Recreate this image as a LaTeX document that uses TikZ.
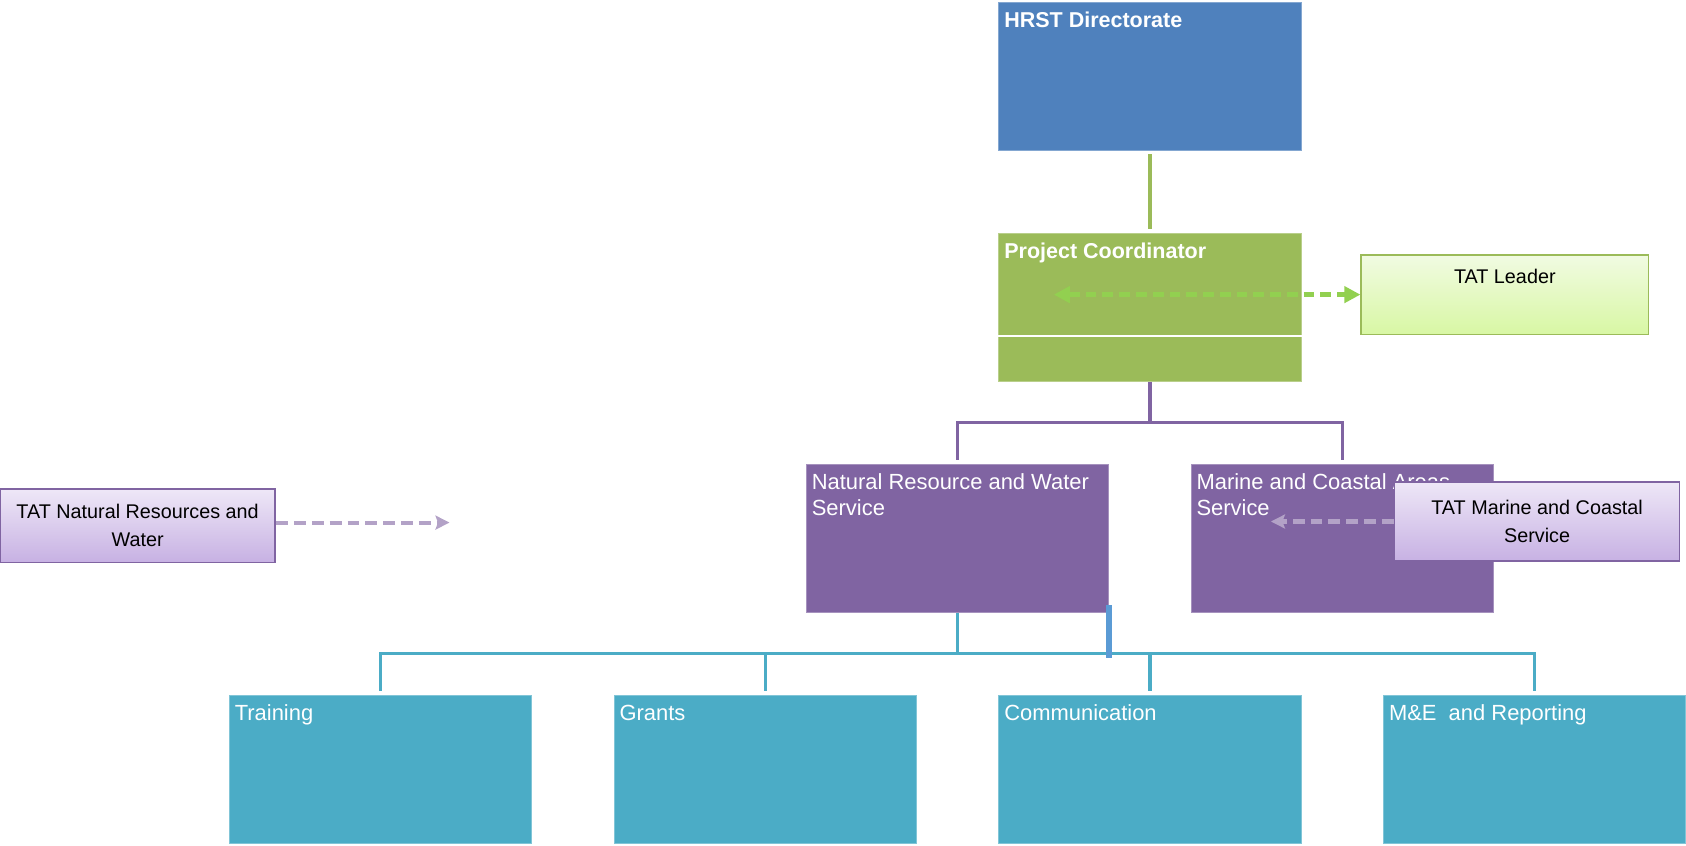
\documentclass[tikz,border=0pt]{standalone}
\usepackage{fontspec}
\setmainfont{Liberation Sans}
\usepackage{tikz}
\usetikzlibrary{arrows.meta,positioning}
\definecolor{hrstblue}{HTML}{4F81BD}
\definecolor{coordgreen}{HTML}{9BBB59}
\definecolor{servicepurple}{HTML}{8064A2}
\definecolor{unitteal}{HTML}{4BACC6}
\definecolor{leadgreen}{HTML}{92D050}
\definecolor{tatpurple}{HTML}{B3A2C7}
\definecolor{barblue}{HTML}{5B9BD5}
\definecolor{leadtop}{HTML}{F1FBE2}
\definecolor{leadbottom}{HTML}{D8F7A4}
\definecolor{tattop}{HTML}{EEE7F7}
\definecolor{tatbottom}{HTML}{C7B1E3}

\begin{document}
\begin{tikzpicture}[x=0.5pt, y=-0.5pt, node distance=38pt and 38pt, >={Triangle[length=7.5pt, width=7.5pt]}] % Raster: 76px Abstand, Boxen 281x138px

		\tikzstyle{all} = [rectangle, draw, line width=0.4pt, minimum width=140.5pt, minimum height=69pt, inner sep=0pt]
		\tikzstyle{directorate} = [all, fill=hrstblue, draw=hrstblue!70!white]
		\tikzstyle{coordinator} = [all, fill=coordgreen, draw=coordgreen!70!white]
		\tikzstyle{service} = [all, fill=servicepurple, draw=servicepurple!70!white]
		\tikzstyle{unit} = [all, fill=unitteal, draw=unitteal!70!white]
		\tikzstyle{caption} = [anchor=north west, inner sep=0pt, xshift=2.5pt, yshift=-4.6pt, text=white, align=left, font=\fontsize{10.2}{12}\selectfont]
		\tikzstyle{tat} = [rectangle, draw, line width=0.8pt, align=center, inner sep=0pt, font=\fontsize{9.2}{13}\selectfont]
		\tikzstyle{tatlead} = [tat, draw=coordgreen, top color=leadtop, bottom color=leadbottom, minimum width=133.5pt, minimum height=37pt]
		\tikzstyle{tatservice} = [tat, draw=servicepurple, top color=tattop, bottom color=tatbottom, minimum height=37pt]
		\tikzstyle{coordline} = [coordgreen, line width=1.7pt, shorten <=1.5pt, shorten >=1.5pt]
		\tikzstyle{serviceline} = [servicepurple, line width=1.5pt, shorten >=1.5pt]
		\tikzstyle{unitline} = [unitteal, line width=1.5pt, shorten >=1.5pt]
		\tikzstyle{leadarrow} = [leadgreen, line width=2.2pt, dash pattern=on 5pt off 2.8pt]
		\tikzstyle{tatarrow} = [tatpurple, line width=1.9pt, dash pattern=on 5.5pt off 2.8pt, -{Stealth[length=6.5pt, width=6.5pt, inset=1.2pt]}]

		\useasboundingbox (0,0) rectangle (1568,786);

		\node [directorate, label={[caption, font=\bfseries]north west:HRST Directorate}] (hrst) at (1069.5,71) {};
		\node [coordinator, below = of hrst, label={[caption, font=\bfseries]north west:Project Coordinator}] (coord) {};

		\node [service, below = of coord, xshift=-89.5pt, label={[caption]north west:Natural Resource and Water\\Service}] (nrw) {};
		\node [service, right = of nrw, label={[caption]north west:Marine and Coastal Areas\\Service}] (marine) {};

		\node [unit, below = of nrw, xshift=89.5pt, label={[caption]north west:Communication}] (comm) {};
		\node [unit, left = of comm, label={[caption, yshift=-0.2pt]north west:Grants}] (grants) {};
		\node [unit, left = of grants, label={[caption]north west:Training}] (training) {};
		\node [unit, right = of comm, label={[caption]north west:M\&E\ \ and Reporting}] (me) {};

		% TAT Boxen
		\node [tatlead, label={[font=\fontsize{9.2}{13}\selectfont, anchor=north, inner sep=0pt, yshift=-7pt]north:TAT Leader}] (leader) at (1399.5,274) {};
		\node [tatservice, minimum width=132.5pt] (tatmarine) at (1429.5,485) {TAT Marine and Coastal\\Service};
		\node [tatservice, minimum width=128pt, minimum height=34pt] (tatnrw) at (128,489) {TAT Natural Resources and\\Water};

		\coordinate (leadtip) at (980,274);
		\coordinate (marinetip) at (1182,485);
		\coordinate (nrwtip) at (418,486);

		\draw [white, line width=0.8pt] ([yshift=-48pt]coord.north west) -- ([yshift=-48pt]coord.north east);

		\draw [coordline] (hrst) -- (coord);
		\draw [serviceline] (coord.south) -- ++(0,-19pt) -| (nrw.north);
		\draw [serviceline] (coord.south) -- ++(0,-19pt) -| (marine.north);
		\foreach \u in {training, grants, comm, me}
			\draw [unitline] (nrw.south) -- ++(0,-19pt) -| (\u.north);
		\draw [barblue, line width=2.5pt] ([yshift=3.5pt]nrw.south east) -- ++(0,-24.5pt);

		\draw [leadarrow, <->] (leadtip) -- (leader.west);
		\draw [tatarrow] (tatmarine.west) -- (marinetip);
		\draw [tatarrow] (tatnrw.east |- nrwtip) -- (nrwtip);

		\end{tikzpicture}
\end{document}
